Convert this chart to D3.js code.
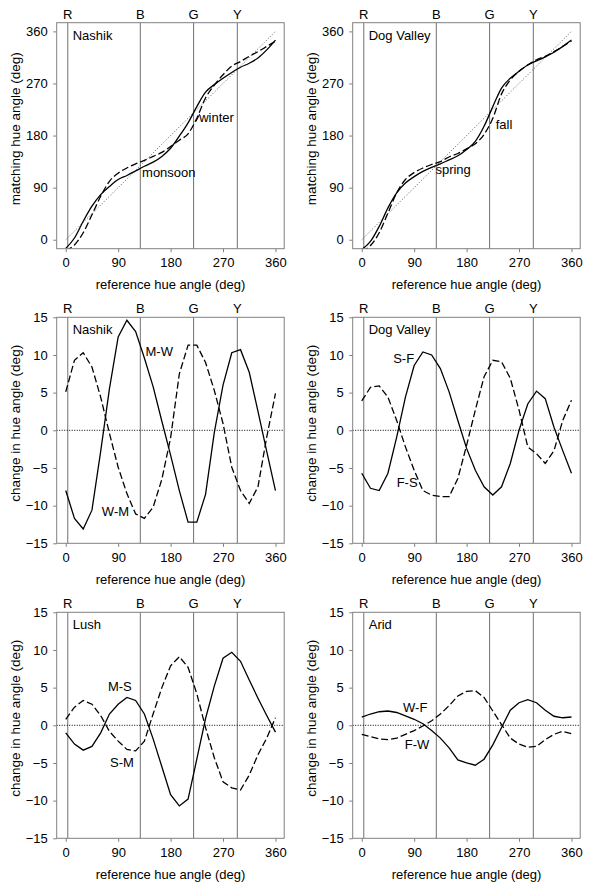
<!DOCTYPE html>
<html>
<head>
<meta charset="utf-8">
<script src="https://cdn.jsdelivr.net/npm/d3@7"></script>
<style>
  body { margin: 0; background: #fff; }
  svg { display: block; font-family: Arial, "Liberation Sans", sans-serif; }
  .tick text { font-size: 13px; fill: #000; }
  .tick line { stroke: #808080; }
</style>
</head>
<body>
<svg id="chart" width="600" height="885"></svg>
<script>
// --- DATA ---
const refAngle = [0, 15, 30, 45, 60, 75, 90, 105, 120, 135, 150, 165, 180,
                  195, 210, 225, 240, 255, 270, 285, 300, 315, 330, 345, 360];
const hueLetters = ["R", "B", "G", "Y"];
const hueAngles = [3.5, 128, 219.5, 294.5];
const refTicks = [0, 90, 180, 270, 360];
const matchTicks = [0, 90, 180, 270, 360];
const diffTicks = [-15, -10, -5, 0, 5, 10, 15];

// matching hue angle (row 1)
const nashikMonsoon = [-15, 3, 32, 58, 78, 92, 104, 111, 119, 127, 134, 144, 158, 179, 202, 230, 255, 268, 279, 289, 298, 305, 314, 328, 345];
const nashikWinter  = [-19, -9, 12, 43, 75, 101, 115, 124, 131, 137, 144, 151, 161, 172, 183, 210, 245, 267, 285, 300, 308, 317, 325, 334, 343];
const dogSpring     = [-17, -3, 23, 55, 81, 98, 109, 118, 125, 131, 138, 145, 156, 170, 196, 230, 262, 279, 291, 302, 309, 316, 324, 334, 345];
const dogFall       = [-20, -10, 12, 46, 81, 104, 116, 124, 130, 135, 143, 149, 157, 166, 182, 210, 252, 276, 291, 302, 311, 317, 325, 334, 343];

// change in hue angle (rows 2, 3)
const nashikMW = [-8, -11.7, -13.1, -10.6, -2.8, 5.5, 12.4, 14.6, 13.1, 9.6, 5.8, 1.2, -3.3, -8, -12.2, -12.2, -8.5, -0.3, 6, 10.3, 10.7, 7.7, 2.5, -2.8, -8];
const nashikWM = [5.1, 9.3, 10.3, 8.4, 4.4, -0.4, -4.9, -8.4, -11.1, -11.7, -10.2, -6.5, -1, 7.5, 11.3, 11.3, 9.0, 5.3, 0.9, -4.9, -8, -9.7, -7.5, -0.9, 4.9];
const dogSF = [-5.7, -7.7, -8.0, -5.7, -0.9, 4.4, 8.6, 10.4, 10.0, 8.2, 5.1, 1.3, -2.4, -5.3, -7.5, -8.6, -7.5, -4.4, 0, 3.5, 5.2, 4.2, 0.4, -2.7, -5.7];
const dogFS = [3.9, 5.7, 5.9, 4.4, 1.3, -2.2, -5.3, -8.0, -8.6, -8.8, -8.8, -6.4, -2.0, 2.7, 7.1, 9.3, 9.1, 6.9, 2.7, -2.2, -3.1, -4.4, -2.7, 1.3, 4.0];
const lushMS = [-1.0, -2.5, -3.3, -2.8, -1.0, 1.5, 2.8, 3.7, 3.3, 1.5, -1.8, -5.5, -9.2, -10.7, -9.8, -4.5, 0.9, 5.2, 8.9, 9.7, 8.5, 6.0, 3.6, 1.3, -0.9];
const lushSM = [0.8, 2.4, 3.3, 2.8, 1.3, -0.8, -2.1, -3.2, -3.4, -2.1, 1.5, 5.0, 7.9, 9.1, 7.7, 4.2, -0.3, -4.3, -7.5, -8.3, -8.6, -6.6, -3.9, -1.7, 1.0];
const aridWF = [1.1, 1.5, 1.8, 1.9, 1.7, 1.25, 0.8, 0.2, -0.7, -1.7, -3.0, -4.6, -5.0, -5.3, -4.5, -2.6, -0.3, 2.0, 3.0, 3.4, 3.0, 2.0, 1.2, 1.0, 1.1];
const aridFW = [-1.2, -1.5, -1.8, -1.9, -1.7, -1.2, -0.7, -0.1, 0.6, 1.5, 2.6, 3.9, 4.5, 4.6, 3.7, 1.9, 0.1, -1.7, -2.5, -2.9, -2.8, -1.9, -1.2, -0.8, -1.1];

// --- LAYOUT ---
const colX = [56.7, 352.7];
const rowY = [22.7, 317.3, 612.3];
const frameW = 227.5, frameH = 226;

const panels = [
    { row: 0, col: 0, title: "Nashik", solid: nashikMonsoon, dashed: nashikWinter, kind: "match",
      labels: [{ t: "monsoon", d: 131, v: 109 }, { t: "winter", d: 229, v: 203 }],
      leader: [[223.5, 204], [230, 217]] },
    { row: 0, col: 1, title: "Dog Valley", solid: dogSpring, dashed: dogFall, kind: "match",
      labels: [{ t: "spring", d: 126.5, v: 113 }, { t: "fall", d: 230, v: 191 }] },
    { row: 1, col: 0, title: "Nashik", solid: nashikMW, dashed: nashikWM, kind: "diff",
      labels: [{ t: "M-W", d: 137, v: 9.8 }, { t: "W-M", d: 62, v: -11.4 }] },
    { row: 1, col: 1, title: "Dog Valley", solid: dogSF, dashed: dogFS, kind: "diff",
      labels: [{ t: "S-F", d: 54, v: 8.9 }, { t: "F-S", d: 60, v: -7.5 }] },
    { row: 2, col: 0, title: "Lush", solid: lushMS, dashed: lushSM, kind: "diff",
      labels: [{ t: "M-S", d: 72.5, v: 4.5 }, { t: "S-M", d: 76, v: -5.6 }] },
    { row: 2, col: 1, title: "Arid", solid: aridWF, dashed: aridFW, kind: "diff",
      labels: [{ t: "W-F", d: 71, v: 1.7 }, { t: "F-W", d: 74, v: -3.2 }] }
];

const svg = d3.select("#chart");
svg.append("rect").attr("width", 600).attr("height", 885).attr("fill", "#fff");

panels.forEach((p, i) => drawPanel(p, i));

function drawPanel(p, i) {
    const left = colX[p.col], top = rowY[p.row];
    const x = d3.scaleLinear().domain([-15.5, 375]).range([left, left + frameW]);
    const y = p.kind === "match"
        ? d3.scaleLinear().domain([-15.5, 375]).range([top + frameH, top])
        : d3.scaleLinear().domain([-15, 15]).range([top + frameH, top]);

    const g = svg.append("g");

    // clip to the plot frame
    const clipId = "clip" + i;
    g.append("clipPath").attr("id", clipId)
        .append("rect").attr("x", left).attr("y", top).attr("width", frameW).attr("height", frameH);

    // axes (ticks + labels only; frame drawn separately)
    const yAxis = d3.axisLeft(y).tickValues(p.kind === "match" ? matchTicks : diffTicks)
        .tickSize(3.5).tickPadding(5.5);
    g.append("g").attr("transform", `translate(${left},0)`).call(yAxis)
        .call(a => a.select(".domain").remove());

    const xAxis = d3.axisBottom(x).tickValues(refTicks).tickSize(3.5).tickPadding(6);
    g.append("g").attr("transform", `translate(0,${top + frameH})`).call(xAxis)
        .call(a => a.select(".domain").remove());

    // axis titles
    g.append("text")
        .attr("x", (x(0) + x(360)) / 2)
        .attr("y", top + frameH + 40.5)
        .attr("text-anchor", "middle")
        .style("font-size", "13px")
        .text("reference hue angle (deg)");

    g.append("text")
        .attr("transform", `translate(${left - 37},${top + frameH / 2 - 7}) rotate(-90)`)
        .attr("text-anchor", "middle")
        .style("font-size", "13.5px")
        .text(p.kind === "match" ? "matching hue angle (deg)" : "change in hue angle (deg)");

    // hue reference lines and letters
    g.selectAll(".hue-line")
        .data(hueAngles)
        .enter()
        .append("line")
        .attr("x1", d => x(d)).attr("x2", d => x(d))
        .attr("y1", top).attr("y2", top + frameH)
        .attr("stroke", "#707070")
        .attr("stroke-width", 1);

    g.selectAll(".hue-letter")
        .data(hueAngles)
        .enter()
        .append("text")
        .attr("x", d => x(d))
        .attr("y", top - 4)
        .attr("text-anchor", "middle")
        .style("font-size", "13px")
        .text((d, k) => hueLetters[k]);

    const plot = g.append("g").attr("clip-path", `url(#${clipId})`);

    // reference dotted line
    if (p.kind === "match") {
        plot.append("line")
            .attr("x1", x(0)).attr("y1", y(0))
            .attr("x2", x(360)).attr("y2", y(360))
            .attr("stroke", "#555")
            .attr("stroke-width", 1)
            .attr("stroke-dasharray", "1,2");
    } else {
        plot.append("line")
            .attr("x1", left).attr("x2", left + frameW)
            .attr("y1", y(0)).attr("y2", y(0))
            .attr("stroke", "#000")
            .attr("stroke-width", 1)
            .attr("stroke-dasharray", "1,1.5");
    }

    const line = d3.line()
        .x((d, k) => x(refAngle[k]))
        .y(d => y(d))
        .curve(p.kind === "match" ? d3.curveMonotoneX : d3.curveLinear);

    plot.append("path")
        .datum(p.dashed)
        .attr("fill", "none")
        .attr("stroke", "#000")
        .attr("stroke-width", 1.3)
        .attr("stroke-dasharray", "7,3")
        .attr("d", line);

    plot.append("path")
        .datum(p.solid)
        .attr("fill", "none")
        .attr("stroke", "#000")
        .attr("stroke-width", 1.3)
        .attr("d", line);

    // frame
    g.append("rect")
        .attr("x", left).attr("y", top)
        .attr("width", frameW).attr("height", frameH)
        .attr("fill", "none")
        .attr("stroke", "#808080")
        .attr("stroke-width", 1);

    // panel title and curve labels
    g.append("text")
        .attr("x", x(p.kind === "match" ? 12 : 12))
        .attr("y", top + 17)
        .style("font-size", "13px")
        .text(p.title);

    g.selectAll(".curve-label")
        .data(p.labels)
        .enter()
        .append("text")
        .attr("x", d => x(d.d))
        .attr("y", d => y(d.v))
        .style("font-size", "13px")
        .text(d => d.t);

    if (p.leader) {
        g.append("line")
            .attr("x1", x(p.leader[0][0])).attr("y1", y(p.leader[0][1]))
            .attr("x2", x(p.leader[1][0])).attr("y2", y(p.leader[1][1]))
            .attr("stroke", "#000")
            .attr("stroke-width", 1);
    }
}
</script>
</body>
</html>
